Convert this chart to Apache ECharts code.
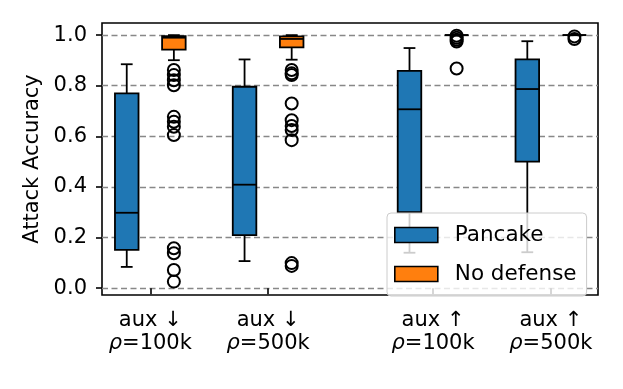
<!DOCTYPE html>
<html>
<head>
<meta charset="utf-8">
<script src="https://cdn.jsdelivr.net/npm/echarts@6/dist/echarts.min.js"></script>
<style>
  html, body { margin: 0; padding: 0; background: #fff; }
  #chart { width: 623px; height: 389px; }
</style>
</head>
<body>
<div id="chart"></div>
<script>
// group labels and where they sit on the x axis
const categories = ['aux ↓\nρ=100k', 'aux ↓\nρ=500k', 'aux ↑\nρ=100k', 'aux ↑\nρ=500k'];
const positions = [1, 2, 3.4, 4.4];
const yTicks = [0.0, 0.2, 0.4, 0.6, 0.8, 1.0];

// box stats: [min, Q1, median, Q3, max]
const pancakeStats = [
    [0.084, 0.151, 0.298, 0.770, 0.885],
    [0.107, 0.210, 0.409, 0.796, 0.904],
    [0.140, 0.300, 0.707, 0.859, 0.949],
    [0.142, 0.500, 0.787, 0.904, 0.976]
];
const noDefenseStats = [
    [0.901, 0.943, 0.990, 0.996, 1.0],
    [0.903, 0.952, 0.985, 0.995, 1.0],
    [1.0, 1.0, 1.0, 1.0, 1.0],
    [1.0, 1.0, 1.0, 1.0, 1.0]
];
const noDefenseOutliers = [
    [0.862, 0.842, 0.822, 0.802, 0.677, 0.658, 0.638, 0.605, 0.158, 0.138, 0.072, 0.026],
    [0.862, 0.849, 0.842, 0.730, 0.664, 0.641, 0.625, 0.585, 0.099, 0.088],
    [0.998, 0.990, 0.982, 0.975, 0.868],
    [0.995, 0.985]
];

const FONT = 'DejaVu Sans';
const FS = 21;
const OFFSET = 0.2;   // box shift from group centre
const BOX_W = 0.2;    // box width in x units
const LW = 1.8;

const boxData = (stats, dx) => stats.map((s, i) => [positions[i] + dx].concat(s));

function renderBox(params, api) {
    const x = api.value(0);
    const lo = api.value(1), q1 = api.value(2), med = api.value(3), q3 = api.value(4), hi = api.value(5);
    const p = (dx, v) => api.coord([x + dx, v]);
    const line = (a, b) => ({
        type: 'line',
        shape: { x1: a[0], y1: a[1], x2: b[0], y2: b[1] },
        style: { stroke: '#000', lineWidth: LW }
    });
    const tl = p(-BOX_W / 2, q3), br = p(BOX_W / 2, q1);
    return {
        type: 'group',
        children: [
            line(p(0, lo), p(0, q1)),
            line(p(0, q3), p(0, hi)),
            line(p(-BOX_W / 4, lo), p(BOX_W / 4, lo)),
            line(p(-BOX_W / 4, hi), p(BOX_W / 4, hi)),
            {
                type: 'rect',
                shape: { x: tl[0], y: tl[1], width: br[0] - tl[0], height: br[1] - tl[1] },
                style: { fill: api.visual('color'), stroke: '#000', lineWidth: LW }
            },
            line(p(-BOX_W / 2, med), p(BOX_W / 2, med))
        ]
    };
}

const outlierData = [];
noDefenseOutliers.forEach((vals, i) => {
    vals.forEach(v => outlierData.push([positions[i] + OFFSET, v]));
});

function xLabel(v) {
    const i = positions.findIndex(p => Math.abs(p - v) < 1e-6);
    return i < 0 ? '' : categories[i].replace('ρ', '{i|ρ}');
}

const chart = echarts.init(document.getElementById('chart'));
chart.setOption({
    animation: false,
    backgroundColor: '#fff',
    textStyle: { fontFamily: FONT },
    grid: {
        left: 102, right: 25, top: 23, bottom: 94,
        show: true, borderColor: '#000', borderWidth: 1.6, backgroundColor: 'transparent'
    },
    legend: {
        data: ['Pancake', 'No defense'],
        orient: 'vertical',
        left: 387, top: 213,
        icon: 'rect',
        itemWidth: 43, itemHeight: 15, itemGap: 17,
        padding: [11, 10, 11, 7],
        backgroundColor: 'rgba(255,255,255,0.8)',
        borderColor: '#cccccc', borderWidth: 1, borderRadius: 4,
        itemStyle: { borderColor: '#000', borderWidth: 1.6 },
        textStyle: { fontFamily: FONT, fontSize: 21.5, color: '#000', padding: [0, 0, 0, 12] }
    },
    xAxis: {
        type: 'value',
        min: 0.59, max: 4.8,
        axisLine: { show: false },
        splitLine: { show: false },
        axisTick: { show: true, length: 6, customValues: positions, lineStyle: { color: '#000', width: 1.6 } },
        axisLabel: {
            customValues: positions,
            formatter: xLabel,
            margin: 14,
            color: '#000',
            fontFamily: FONT,
            fontSize: FS,
            lineHeight: 23,
            rich: { i: { fontStyle: 'italic', fontFamily: FONT, fontSize: FS, color: '#000', lineHeight: 23 } }
        }
    },
    yAxis: {
        type: 'value',
        min: -0.027, max: 1.048,
        name: 'Attack Accuracy',
        nameLocation: 'middle',
        nameGap: 58,
        nameTextStyle: { fontFamily: FONT, fontSize: FS, color: '#000' },
        axisLine: { show: false },
        splitLine: { show: false },
        axisTick: { show: true, length: 6, customValues: yTicks, lineStyle: { color: '#000', width: 1.6 } },
        axisLabel: {
            customValues: yTicks,
            formatter: v => v.toFixed(1),
            margin: 15,
            color: '#000',
            fontFamily: FONT,
            fontSize: FS
        }
    },
    series: [
        {
            name: 'grid',
            type: 'line',
            data: [],
            z: 0,
            silent: true,
            markLine: {
                z: 0,
                silent: true,
                symbol: 'none',
                label: { show: false },
                lineStyle: { color: '#888', type: [6, 3.5], width: 1.3 },
                data: yTicks.map(v => ({ yAxis: v }))
            }
        },
        {
            name: 'Pancake',
            type: 'custom',
            renderItem: renderBox,
            itemStyle: { color: '#1f77b4' },
            encode: { x: 0, y: [1, 2, 3, 4, 5] },
            data: boxData(pancakeStats, -OFFSET),
            z: 3
        },
        {
            name: 'No defense',
            type: 'custom',
            renderItem: renderBox,
            itemStyle: { color: '#ff7f0e' },
            encode: { x: 0, y: [1, 2, 3, 4, 5] },
            data: boxData(noDefenseStats, OFFSET),
            z: 3
        },
        {
            name: 'fliers',
            type: 'scatter',
            symbol: 'circle',
            symbolSize: 12,
            itemStyle: { color: 'rgba(255,255,255,0)', borderColor: '#000', borderWidth: 2, opacity: 1 },
            data: outlierData,
            z: 4
        }
    ]
});
</script>
</body>
</html>
